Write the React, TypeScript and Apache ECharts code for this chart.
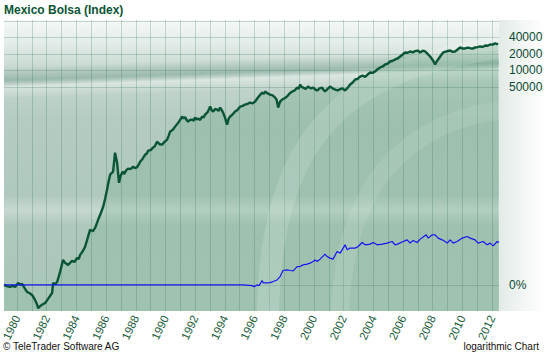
import React, { useEffect, useRef } from 'react';
import * as echarts from 'echarts';

const TITLE = 'Mexico Bolsa (Index)';
const FOOTER_LEFT = '© TeleTrader Software AG';
const FOOTER_RIGHT = 'logarithmic Chart';

// index value shown as "0%" (the start value); labels 40000, 20000 ... sit on doublings of it
const BASE = 1.220703125;

const X_MIN = 1979.12;
const X_MAX = 2012.47;
const Y_MIN_FACTOR = 0.334; // lowest value of the plot relative to BASE
const Y_MAX_FACTOR = 68000; // highest value of the plot relative to BASE

const yearTicks = [1980, 1981, 1982, 1983, 1984, 1985, 1986, 1987, 1988, 1989, 1990, 1991, 1992, 1993, 1994, 1995, 1996, 1997, 1998, 1999, 2000, 2001, 2002, 2003, 2004, 2005, 2006, 2007, 2008, 2009, 2010, 2011, 2012];
const yearLabels = ['1980', '1982', '1984', '1986', '1988', '1990', '1992', '1994', '1996', '1998', '2000', '2002', '2004', '2006', '2008', '2010', '2012'];

const priceLevels = [40000, 20000, 10000, 5000];
const priceLabels = ['40000', '20000', '10000', '50000'];
const gridLevels = [80000, 40000, 20000, 10000, 5000];
const ZERO_LABEL = '0%';

const indexDates = [
  1979.12, 1979.30, 1979.53, 1979.70, 1979.87, 1980.07, 1980.20, 1980.34, 1980.50, 1980.67,
  1980.85, 1981.01, 1981.21, 1981.32, 1981.42, 1981.55, 1981.68, 1981.89, 1982.09, 1982.36,
  1982.43, 1982.56, 1982.70, 1982.90, 1983.10, 1983.23, 1983.44, 1983.58, 1983.71, 1983.88,
  1984.04, 1984.15, 1984.25, 1984.40, 1984.58, 1984.75, 1984.92, 1985.10, 1985.26, 1985.46,
  1985.62, 1985.80, 1985.93, 1986.06, 1986.17, 1986.27, 1986.47, 1986.60, 1986.74, 1986.87,
  1986.97, 1987.08, 1987.15, 1987.21, 1987.35, 1987.48, 1987.65, 1987.82, 1987.95, 1988.09,
  1988.19, 1988.29, 1988.46, 1988.63, 1988.73, 1988.83, 1989.00, 1989.16, 1989.30, 1989.43,
  1989.60, 1989.77, 1989.94, 1990.11, 1990.21, 1990.31, 1990.48, 1990.65, 1990.90, 1991.12,
  1991.22, 1991.32, 1991.42, 1991.52, 1991.65, 1991.79, 1991.90, 1991.99, 1992.10, 1992.20,
  1992.33, 1992.47, 1992.57, 1992.67, 1992.85, 1993.01, 1993.10, 1993.21, 1993.35, 1993.48,
  1993.58, 1993.68, 1993.78, 1993.88, 1994.00, 1994.15, 1994.25, 1994.35, 1994.50, 1994.69,
  1994.85, 1995.03, 1995.20, 1995.36, 1995.53, 1995.70, 1995.87, 1996.04, 1996.27, 1996.51,
  1996.60, 1996.71, 1996.88, 1997.05, 1997.22, 1997.39, 1997.49, 1997.59, 1997.72, 1997.86,
  1998.02, 1998.19, 1998.36, 1998.53, 1998.70, 1998.87, 1998.97, 1999.07, 1999.17, 1999.27,
  1999.44, 1999.61, 1999.78, 1999.95, 2000.08, 2000.22, 2000.38, 2000.55, 2000.65, 2000.75,
  2000.92, 2001.09, 2001.26, 2001.43, 2001.60, 2001.77, 2001.93, 2002.10, 2002.27, 2002.44,
  2002.61, 2002.78, 2002.95, 2003.11, 2003.28, 2003.45, 2003.62, 2003.79, 2003.95, 2004.12,
  2004.29, 2004.46, 2004.63, 2004.80, 2004.97, 2005.13, 2005.30, 2005.47, 2005.64, 2005.81,
  2005.98, 2006.15, 2006.32, 2006.48, 2006.65, 2006.82, 2006.99, 2007.16, 2007.33, 2007.49,
  2007.66, 2007.83, 2008.00, 2008.17, 2008.27, 2008.37, 2008.54, 2008.71, 2008.95, 2009.18,
  2009.35, 2009.51, 2009.68, 2009.85, 2010.02, 2010.19, 2010.36, 2010.53, 2010.70, 2010.86,
  2011.03, 2011.20, 2011.37, 2011.54, 2011.70, 2011.87, 2012.04, 2012.21, 2012.31, 2012.41,
];
const indexValues = [
  1.22, 1.16, 1.12, 1.17, 1.12, 1.33, 1.24, 1.27, 1.08, 0.91,
  0.86, 0.80, 0.65, 0.56, 0.46, 0.50, 0.53, 0.57, 0.68, 0.87,
  1.33, 1.25, 1.38, 2.11, 3.50, 3.08, 2.83, 3.10, 3.35, 3.20,
  3.80, 3.60, 4.31, 4.90, 6.04, 8.60, 12.4, 11.6, 13.4, 18.8,
  24.0, 32.5, 45.0, 66.5, 95.0, 125, 142, 316, 207, 89,
  118, 136, 142, 128, 150, 161, 158, 175, 165, 172,
  190, 216, 245, 290, 300, 343, 352, 389, 420, 501,
  450, 442, 500, 545, 640, 764, 820, 942, 1150, 1435,
  1330, 1400, 1250, 1163, 1250, 1265, 1210, 1377, 1280, 1320,
  1250, 1435, 1380, 1562, 1750, 2188, 1900, 1772, 1980, 1928,
  1820, 2097, 1900, 1699, 1400, 1025, 1300, 1435, 1550, 1772,
  1900, 2188, 2250, 2380, 2450, 2589, 2500, 2700, 3300, 3940,
  3700, 4110, 3800, 3622, 3500, 3193, 2900, 2097, 2700, 2937,
  3100, 3332, 3800, 4110, 4300, 4865, 4600, 5518, 5000, 4865,
  4600, 5074, 4700, 4865, 4500, 4288, 4700, 4865, 4400, 4110,
  4600, 5074, 4700, 4473, 4300, 4550, 4700, 4300, 4800, 5518,
  6000, 6814, 7000, 7728, 8000, 7600, 8400, 9148, 9000, 9540,
  10500, 11290, 11800, 12810, 13300, 14530, 15000, 15810, 16500, 17940,
  19500, 21220, 21000, 22130, 21300, 22500, 23000, 21220, 22800, 22130,
  20000, 17940, 15500, 12810, 14500, 15810, 18500, 21220, 22300, 23090,
  21800, 22130, 24000, 26200, 25000, 25120, 26000, 25400, 25000, 26200,
  26500, 27320, 26800, 28500, 28200, 29720, 29500, 31000, 30500, 29720,
];

const compareDates = [
  1979.12, 1995.23, 1995.84, 1995.97, 1996.17, 1996.31, 1996.51, 1996.58, 1996.85, 1997.05,
  1997.25, 1997.52, 1997.72, 1997.92, 1998.19, 1998.40, 1998.60, 1998.87, 1999.07, 1999.27,
  1999.54, 1999.74, 1999.95, 2000.08, 2000.22, 2000.42, 2000.75, 2000.89, 2001.09, 2001.29,
  2001.56, 2001.77, 2001.97, 2002.10, 2002.24, 2002.44, 2002.78, 2002.98, 2003.25, 2003.45,
  2003.79, 2003.99, 2004.26, 2004.60, 2004.93, 2005.27, 2005.47, 2005.67, 2006.01, 2006.28,
  2006.48, 2006.68, 2006.95, 2007.16, 2007.36, 2007.56, 2007.70, 2007.97, 2008.17, 2008.37,
  2008.64, 2008.84, 2008.98, 2009.18, 2009.38, 2009.65, 2009.99, 2010.32, 2010.53, 2010.86,
  2011.06, 2011.40, 2011.67, 2011.87, 2012.08, 2012.35, 2012.48,
];
const comparePct = [
  0, 0, -3, -7, 0, -3, 20, 9, 9, 10,
  15, 23, 42, 83, 88, 83, 80, 116, 116, 132,
  139, 149, 167, 186, 167, 195, 264, 229, 208, 195,
  306, 280, 369, 438, 336, 369, 369, 401, 493, 438,
  454, 493, 438, 454, 478, 519, 438, 461, 519, 564,
  478, 545, 493, 584, 645, 720, 614, 720, 720, 614,
  564, 519, 478, 564, 478, 519, 614, 664, 614, 564,
  478, 519, 438, 478, 416, 519, 493,
];

const toU = (v: number) => Math.log2(v / BASE);
const near = (a: number, b: number) => Math.abs(a - b) < 1e-6;

export default function App() {
  const ref = useRef<HTMLDivElement>(null);
  useEffect(() => {
    if (!ref.current) return;
    const chart = echarts.init(ref.current, null, { renderer: 'svg' });
    const FONT = '"Liberation Sans", Arial, sans-serif';
    const priceU = priceLevels.map(toU);
    const gridU = gridLevels.map(toU).concat([0]);
    const L = 4, T = 20, R = 499, B = 311;
    const W = R - L, H = B - T;
    const vGrad = (stops: [number, string][]) => new echarts.graphic.LinearGradient(0, 0, 0, 1, stops.map(([offset, color]) => ({ offset, color })));

    const option: any = {
      animation: false,
      backgroundColor: '#ffffff',
      textStyle: { fontFamily: FONT },
      title: {
        text: TITLE, left: 4, top: 4, padding: 0,
        textStyle: { fontSize: 12, fontWeight: 'bold', color: '#0b5436', fontFamily: FONT },
      },
      grid: { left: L, right: 544 - R, top: T, bottom: 353 - B, containLabel: false, outerBoundsMode: 'none' },
      xAxis: {
        type: 'value', min: X_MIN, max: X_MAX,
        axisLine: { show: false },
        axisTick: { show: false, customValues: yearTicks },
        splitLine: { show: true, lineStyle: { color: 'rgba(40,110,80,0.24)', width: 1 } },
        axisLabel: {
          customValues: yearLabels.map(Number),
          formatter: (v: number) => { const s = String(Math.round(v)); return yearLabels.includes(s) ? s : ''; },
          rotate: 65, margin: 5, color: '#1d5e3e', fontSize: 11.5, fontFamily: FONT,
        },
      },
      yAxis: {
        type: 'value', position: 'right',
        min: toU(BASE * Y_MIN_FACTOR), max: toU(BASE * Y_MAX_FACTOR),
        axisLine: { show: false },
        axisTick: { show: false, customValues: gridU },
        splitLine: { show: true, lineStyle: { color: 'rgba(40,110,80,0.24)', width: 1 } },
        axisLabel: {
          customValues: priceU.concat([0]),
          formatter: (v: number) => {
            if (near(v, 0)) return ZERO_LABEL;
            const i = priceU.findIndex((u) => near(u, v));
            return i >= 0 ? priceLabels[i] : '';
          },
          margin: 10, color: '#0d4a33', fontSize: 12, fontFamily: FONT,
        },
      },
      graphic: [
        { type: 'rect', z: -1, shape: { x: L, y: T, width: W, height: H },
          style: { fill: vGrad([[0, '#f5f8f7'], [0.08, '#e3ece8'], [0.17, '#c6d8d0'], [0.35, '#b4cbc1'], [0.7, '#aec8bc'], [1, '#aac7b9']]) } },
        { type: 'rect', z: -1, x: L, y: 67, rotation: 0.035, originX: 0, originY: 14,
          shape: { x: 0, y: 0, width: W + 10, height: 32 },
          style: { fill: vGrad([[0, 'rgba(70,120,100,0)'], [0.42, 'rgba(70,125,105,0.32)'], [0.62, 'rgba(255,255,255,0.4)'], [1, 'rgba(255,255,255,0)']]) } },
        { type: 'rect', z: -1, shape: { x: L, y: 195, width: W, height: 30 },
          style: { fill: vGrad([[0, 'rgba(255,255,255,0)'], [0.5, 'rgba(255,255,255,0.3)'], [1, 'rgba(255,255,255,0)']]) } },
        { type: 'rect', z: -1, shape: { x: R, y: T, width: 544 - R, height: H },
          style: { fill: new echarts.graphic.LinearGradient(0, 0, 1, 0, [{ offset: 0, color: '#e3ebe7' }, { offset: 1, color: '#ffffff' }]) } },
        { type: 'bezierCurve', z: 1, shape: { x1: 268, y1: 311, cpx1: 272, cpy1: 150, cpx2: 330, cpy2: 70, x2: 499, y2: 48 },
          style: { stroke: 'rgba(255,255,255,0.2)', lineWidth: 22, fill: 'none' } },
        { type: 'bezierCurve', z: 1, shape: { x1: 340, y1: 311, cpx1: 345, cpy1: 190, cpx2: 400, cpy2: 125, x2: 499, y2: 110 },
          style: { stroke: 'rgba(255,255,255,0.14)', lineWidth: 18, fill: 'none' } },
        { type: 'text', left: 3, top: 341, style: { text: FOOTER_LEFT, fill: '#111111', fontSize: 10, fontFamily: FONT } },
        { type: 'text', right: 5, top: 341, style: { text: FOOTER_RIGHT, fill: '#111111', fontSize: 10, fontFamily: FONT } },
      ],
      series: [
        {
          type: 'line', name: 'Mexico Bolsa', symbol: 'none', z: 2,
          data: indexDates.map((d, i) => [d, toU(indexValues[i])]),
          lineStyle: { color: '#0a5535', width: 2.4 },
          areaStyle: {
            origin: 'start',
            color: vGrad([[0, 'rgba(40,130,80,0.28)'], [1, 'rgba(60,150,100,0.14)']]),
          },
        },
        {
          type: 'line', name: 'Compare', symbol: 'none', z: 3,
          data: compareDates.map((d, i) => [d, Math.log2(1 + comparePct[i] / 100)]),
          lineStyle: { color: '#1414f0', width: 1.2 },
        },
      ],
    };
    chart.setOption(option);
    return () => chart.dispose();
  }, []);
  return <div ref={ref} style={{ position: 'fixed', left: 0, top: 0, width: 544, height: 353 }} />;
}
